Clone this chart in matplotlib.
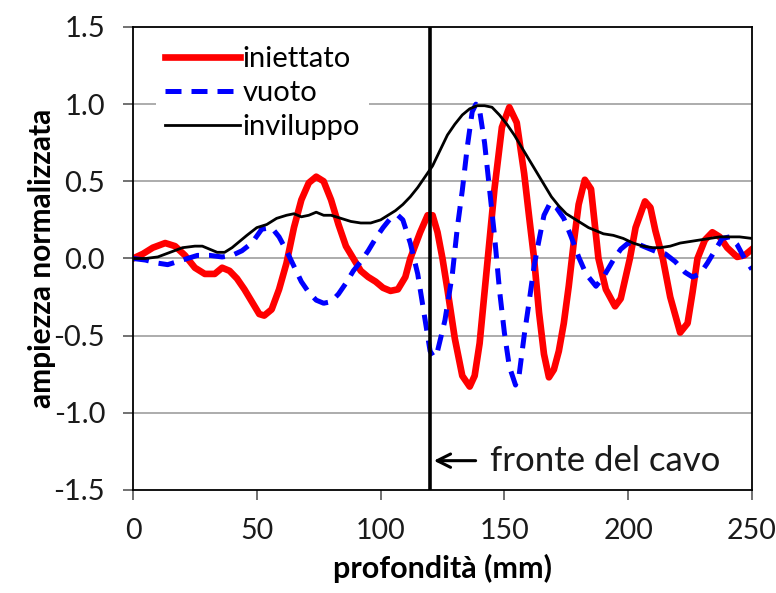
import matplotlib
matplotlib.use('Agg')
import matplotlib.pyplot as plt

plt.rcParams['font.family'] = ['Lato', 'DejaVu Sans']

# iniettato (red)
x_inj = [0, 4, 8, 13, 17, 21, 25, 29, 33, 36, 39, 42, 45, 48, 51, 53, 56, 59, 62, 65,
         68, 71, 74, 77, 80, 83, 86, 89, 92, 95, 98, 101, 104, 107, 110, 112, 116, 119,
         121, 123, 125, 127, 130, 133, 136, 138, 140, 143, 146, 149, 152, 155, 158, 160,
         162, 164, 166, 168, 170, 172, 174, 176, 178, 180, 182.5, 185, 188, 191, 194.7,
         197, 200.7, 203, 206.8, 209, 211, 214, 217, 221, 224, 226, 228, 231, 234, 237,
         240, 244, 247, 250]
y_inj = [0.0, 0.03, 0.07, 0.1, 0.08, 0.02, -0.06, -0.1, -0.1, -0.06, -0.08, -0.13, -0.2,
         -0.28, -0.36, -0.37, -0.33, -0.2, -0.03, 0.2, 0.38, 0.49, 0.53, 0.5, 0.38, 0.22,
         0.08, 0.0, -0.08, -0.12, -0.15, -0.19, -0.21, -0.2, -0.12, 0.0, 0.17, 0.28, 0.28,
         0.17, 0.0, -0.2, -0.52, -0.76, -0.83, -0.76, -0.55, -0.05, 0.45, 0.85, 0.98, 0.88,
         0.55, 0.27, 0.0, -0.35, -0.62, -0.77, -0.72, -0.6, -0.42, -0.18, 0.1, 0.35, 0.51,
         0.45, 0.0, -0.2, -0.31, -0.26, 0.0, 0.2, 0.37, 0.33, 0.18, 0.0, -0.25, -0.48,
         -0.42, -0.22, 0.0, 0.12, 0.17, 0.14, 0.07, 0.01, 0.02, 0.06]

# vuoto (blue dashed)
x_void = [0, 5, 10, 14, 18, 22, 26, 31, 36, 40, 44, 48, 52, 56, 59, 62, 65, 68, 71, 74,
          77, 80, 83, 86, 89, 92, 95, 98, 101, 104, 107, 109, 112, 115, 118, 120, 121.5,
          123, 126, 129, 131, 133, 135, 137, 138.5, 140, 142, 144, 146, 148, 150, 152,
          154.5, 156, 158, 160, 162, 164, 166, 168.5, 171, 174, 177, 180, 183, 187, 190,
          194, 197, 200, 203, 206, 209, 212, 215, 219, 223, 226, 229, 232, 235, 238, 241,
          244, 247, 250]
y_void = [0.0, -0.01, -0.03, -0.04, -0.02, 0.0, 0.02, 0.02, 0.01, 0.02, 0.05, 0.1, 0.19,
          0.2, 0.14, 0.05, -0.05, -0.15, -0.22, -0.27, -0.29, -0.28, -0.23, -0.16, -0.08,
          -0.02, 0.05, 0.13, 0.2, 0.26, 0.28, 0.25, 0.1, -0.1, -0.4, -0.6, -0.64, -0.6,
          -0.4, -0.1, 0.2, 0.44, 0.72, 0.95, 1.0, 0.96, 0.75, 0.45, 0.15, -0.2, -0.48,
          -0.7, -0.82, -0.75, -0.5, -0.28, -0.05, 0.12, 0.28, 0.36, 0.33, 0.26, 0.14, 0.01,
          -0.1, -0.18, -0.12, -0.01, 0.06, 0.1, 0.1, 0.08, 0.06, 0.04, 0.03, -0.02, -0.09,
          -0.12, -0.1, -0.03, 0.05, 0.13, 0.14, 0.09, 0.0, -0.07]

# inviluppo (black)
x_env = [0, 5, 10, 15, 20, 25, 28, 31, 34, 37, 40, 43, 46, 50, 54, 58, 62, 65, 68, 71,
         74, 77, 80, 84, 88, 92, 96, 100, 103, 106, 109, 112, 115, 118, 121, 124, 127, 130,
         133, 136, 139, 142, 145, 148, 151, 154, 157, 160, 163, 166, 169, 172, 175, 178,
         181, 184, 187, 190, 194, 198, 202, 206, 210, 213, 217, 221, 225, 229, 233, 237,
         241, 245, 250]
y_env = [0.0, 0.0, 0.01, 0.04, 0.07, 0.08, 0.08, 0.06, 0.04, 0.04, 0.07, 0.11, 0.15,
         0.2, 0.22, 0.26, 0.28, 0.29, 0.27, 0.28, 0.3, 0.28, 0.28, 0.26, 0.24, 0.23, 0.23,
         0.25, 0.28, 0.31, 0.35, 0.4, 0.46, 0.53, 0.6, 0.7, 0.8, 0.87, 0.93, 0.97, 0.99,
         0.99, 0.98, 0.93, 0.87, 0.8, 0.72, 0.64, 0.56, 0.48, 0.4, 0.34, 0.29, 0.26, 0.23,
         0.2, 0.18, 0.16, 0.15, 0.13, 0.1, 0.08, 0.07, 0.07, 0.08, 0.1, 0.11, 0.12, 0.13,
         0.14, 0.14, 0.14, 0.13]

front_x = 120
front_label_y = -1.31
x_ticks = [0, 50, 100, 150, 200, 250]
y_ticks = [-1.5, -1.0, -0.5, 0.0, 0.5, 1.0, 1.5]

fig = plt.figure(figsize=(7.76, 5.93), dpi=100)
ax = fig.add_axes([0.1714, 0.1737, 0.7976, 0.7808])

for y in y_ticks[1:-1]:
    ax.axhline(y, color='#A6A6A6', lw=1.3, zorder=0)

ax.plot(x_inj, y_inj, color='#FF0000', lw=4.8, solid_joinstyle='round', label='iniettato')
ax.plot(x_void, y_void, color='#0000FF', lw=3.6, dashes=(3.2, 2.0), label='vuoto')
ax.plot(x_env, y_env, color='black', lw=2.0, label='inviluppo')
ax.axvline(front_x, color='black', lw=2.6)

ax.annotate('fronte del cavo', xy=(front_x + 1.5, front_label_y),
            xytext=(front_x + 24, front_label_y), fontsize=25, va='center', ha='left',
            color='#1a1a1a',
            arrowprops=dict(arrowstyle='->', lw=2.2, color='black', shrinkA=8, shrinkB=0,
                            mutation_scale=24))

ax.set_xlim(0, 250)
ax.set_ylim(-1.5, 1.5)
ax.set_xticks(x_ticks)
ax.set_yticks(y_ticks)
ax.set_yticklabels([f'{v:.1f}' for v in y_ticks])
ax.tick_params(direction='out', length=7, width=1.2, labelsize=21, colors='#595959',
               labelcolor='#1a1a1a')
ax.tick_params(axis='x', pad=13, labelsize=20.5)
ax.tick_params(axis='y', pad=13)
for s in ax.spines.values():
    s.set_color('black')
    s.set_linewidth(1.3)

ax.set_xlabel('profondità (mm)', fontsize=22, fontweight='bold', labelpad=7)
ax.set_ylabel('ampiezza normalizzata', fontsize=21.5, fontweight='bold', labelpad=-2)

leg = ax.legend(loc='upper left', bbox_to_anchor=(0.037, 0.978), fontsize=21, frameon=True,
                handlelength=2.6, handletextpad=0.08, labelspacing=0.28,
                borderaxespad=0.0, borderpad=0.3, fancybox=False)
leg.get_frame().set_facecolor('white')
leg.get_frame().set_edgecolor('none')
leg.get_frame().set_alpha(1)

fig.savefig('out.png', dpi=100)
